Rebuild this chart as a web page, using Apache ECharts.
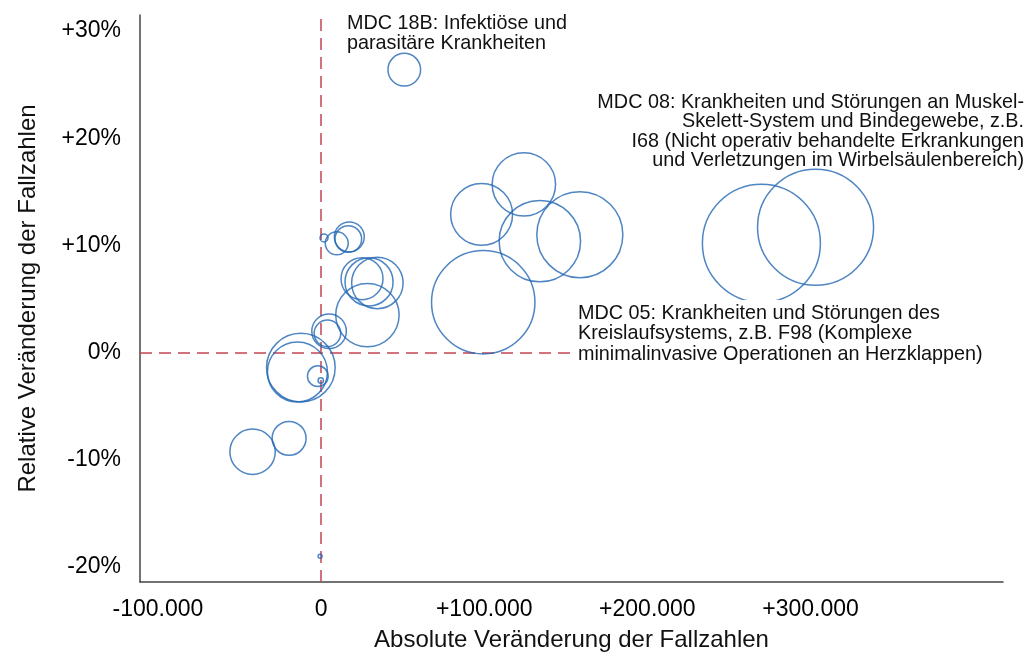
<!DOCTYPE html>
<html>
<head>
<meta charset="utf-8">
<script src="https://cdn.jsdelivr.net/npm/echarts@6/dist/echarts.min.js"></script>
<style>html,body{margin:0;padding:0;background:#fff}#c{width:1025px;height:657px}</style>
</head>
<body>
<div id="c"></div>
<script>
// Absolute change in case numbers
const absChange = [51000, 124300, 98400, 134100, 158600, 99400, 269900, 303100, 1800, 9600, 17300, 16700, 25100, 29400, 34500, 28400, 4900, 3900, -12400, -14500, -2000, -200, -42000, -19600, -600];
// Relative change in case numbers (%)
const relChange = [26.4, 15.7, 12.9, 10.4, 11.0, 4.7, 10.2, 11.7, 10.7, 10.2, 10.8, 10.6, 6.9, 6.6, 6.5, 3.5, 2.0, 1.8, -1.4, -1.8, -2.2, -2.6, -9.25, -8.0, -19.0];
// Base case numbers (thousands) -> bubble area
const baseCases = [107, 404, 386, 666, 744, 1075, 1400, 1353, 6.4, 53, 90, 71, 177, 232, 266, 404, 120, 71, 473, 362, 43, 2.9, 207, 116, 1.6];
const xTicks = [-100000, 0, 100000, 200000, 300000];
const yTicks = [-20, -10, 0, 10, 20, 30];
const labels = {
  mdc18b: 'MDC 18B: Infektiöse und\nparasitäre Krankheiten',
  mdc08: 'MDC 08: Krankheiten und Störungen an Muskel-\nSkelett-System und Bindegewebe, z.B.\nI68 (Nicht operativ behandelte Erkrankungen\nund Verletzungen im Wirbelsäulenbereich)',
  mdc05: 'MDC 05: Krankheiten und Störungen des\nKreislaufsystems, z.B. F98 (Komplexe\nminimalinvasive Operationen an Herzklappen)'
};

const data = absChange.map((x, i) => [x, relChange[i], baseCases[i]]);
const FONT = '"Liberation Sans", Arial, sans-serif';
const fmtX = v => v === 0 ? '0' : (v > 0 ? '+' : '-') + Math.abs(v).toLocaleString('de-DE');
const fmtY = v => v === 0 ? '0%' : (v > 0 ? '+' : '') + v + '%';
const ANN = '19.8px ' + FONT;

const chart = echarts.init(document.getElementById('c'));
chart.setOption({
  animation: false,
  backgroundColor: '#fff',
  grid: { left: 140, right: 22, top: 15, bottom: 74, containLabel: false },
  xAxis: {
    type: 'value', min: -111000, max: 418000,
    name: 'Absolute Veränderung der Fallzahlen', nameLocation: 'middle', nameGap: 46,
    nameTextStyle: { fontSize: 24, color: '#111', fontFamily: FONT },
    axisLine: { show: true, onZero: false, lineStyle: { color: '#444', width: 1.5 } },
    axisTick: { show: false },
    splitLine: { show: false },
    axisLabel: { customValues: xTicks, formatter: fmtX, fontSize: 23, color: '#000', fontFamily: FONT, margin: 16 }
  },
  yAxis: {
    type: 'value', min: -21.4, max: 31.5,
    name: 'Relative Veränderung der Fallzahlen', nameLocation: 'middle', nameGap: 100, nameRotate: 90,
    nameTextStyle: { fontSize: 24, color: '#111', fontFamily: FONT },
    axisLine: { show: true, onZero: false, lineStyle: { color: '#444', width: 1.5 } },
    axisTick: { show: false },
    splitLine: { show: false },
    axisLabel: { customValues: yTicks, formatter: fmtY, fontSize: 23, color: '#000', fontFamily: FONT, margin: 19 }
  },
  series: [{
    type: 'scatter',
    data: data,
    symbol: 'circle',
    symbolSize: d => 3.154 * Math.sqrt(d[2]),
    itemStyle: { color: 'rgba(0,0,0,0)', borderColor: '#2266b3', borderWidth: 1.5 },
    emphasis: { disabled: true },
    clip: false,
    z: 3,
    markLine: {
      silent: true, symbol: 'none', animation: false,
      label: { show: false },
      lineStyle: { color: '#c24453', type: [12, 7], width: 1.5 },
      data: [{ xAxis: 0 }, { yAxis: 0 }],
      z: 2
    }
  }],
  graphic: [
    { type: 'text', z: 100, x: 347, y: 14,
      style: { text: labels.mdc18b, font: ANN, fill: '#111', lineHeight: 20, verticalAlign: 'top', align: 'left' } },
    { type: 'text', z: 100, x: 1024, y: 93,
      style: { text: labels.mdc08, font: ANN, fill: '#111', lineHeight: 19.3, verticalAlign: 'top', align: 'right' } },
    { type: 'text', z: 100, x: 574, y: 300,
      style: { text: labels.mdc05, font: ANN, fill: '#111', lineHeight: 20.5, verticalAlign: 'top', align: 'left', backgroundColor: '#fff', padding: [3, 50, 3, 4] } }
  ]
});
</script>
</body>
</html>
